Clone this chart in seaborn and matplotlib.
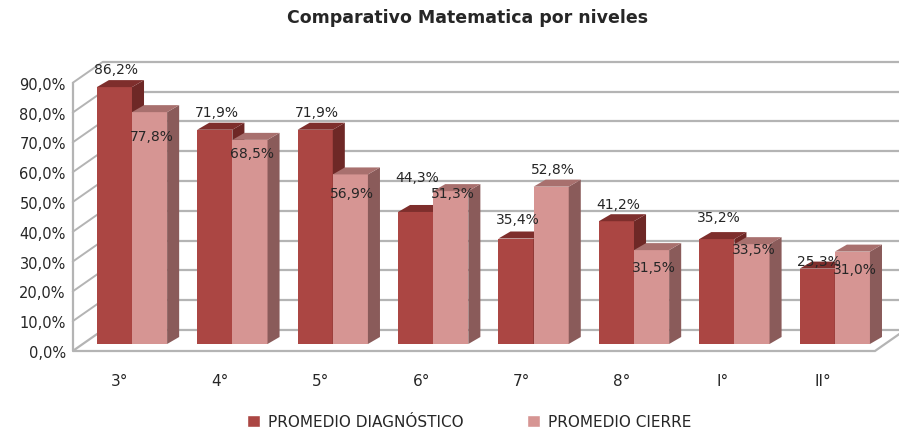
import numpy as np
import pandas as pd
import matplotlib
matplotlib.use("Agg")
import matplotlib.pyplot as plt
import seaborn as sns
from matplotlib.patches import Polygon, Patch

# ── data ─────────────────────────────────────────────────────────────
niveles = ["3°", "4°", "5°", "6°", "7°", "8°", "I°", "II°"]
series = ["PROMEDIO DIAGNÓSTICO", "PROMEDIO CIERRE"]
diagnostico = [86.2, 71.9, 71.9, 44.3, 35.4, 41.2, 35.2, 25.3]
cierre = [77.8, 68.5, 56.9, 51.3, 52.8, 31.5, 33.5, 31.0]
y_ticks = [0, 10, 20, 30, 40, 50, 60, 70, 80, 90]

# label nudges (in %), Excel moves some labels around
diag_label_dy = [6.1, 6.0, 6.0, 11.7, 6.5, 5.8, 7.4, 2.6]
cierre_label_dy = [-8.0, -4.4, -6.2, -0.6, 5.9, -5.7, -1.6, -5.8]

# ── style ────────────────────────────────────────────────────────────
FRONT = {"diag": "#AB4643", "cierre": "#D69593"}
TOP = {"diag": "#7E2E2C", "cierre": "#A8706E"}
SIDE = {"diag": "#6E2826", "cierre": "#8A5B5A"}
GRID = "#b4b4b4"
TEXT = "#262626"

# fake 3-D depth, in data units (x: categories, y: percent)
bar_dx, bar_dy = 0.12, 2.35        # depth of each column
front_dx, front_dy = -0.12, -2.35  # front edge of walls / floor
back_dx, back_dy = 0.18, 4.70      # back wall
wall_lo, wall_hi = -0.47, 7.52

sns.set_style("white")
plt.rcParams["font.family"] = ["DejaVu Sans"]

df = pd.DataFrame({
    "nivel": niveles * 2,
    "serie": [series[0]] * len(niveles) + [series[1]] * len(niveles),
    "valor": diagnostico + cierre,
})

fig = plt.figure(figsize=(8.99, 4.31), dpi=100)
ax = fig.add_axes([0.0809, 0.1833, 0.9147, 0.6731])

sns.barplot(data=df, x="nivel", y="valor", hue="serie",
            palette=[FRONT["diag"], FRONT["cierre"]], saturation=1,
            width=0.7, ax=ax, legend=False, errorbar=None)

ax.set_xlim(-0.59, 7.6)
ax.set_ylim(-2.35, 95)
for s in ax.spines.values():
    s.set_visible(False)

# ── walls, floor, gridlines ──────────────────────────────────────────
fl, fr = wall_lo + front_dx, wall_hi + front_dx
bl, br = wall_lo + back_dx, wall_hi + back_dx
top = y_ticks[-1]

floor = Polygon([(fl, front_dy), (fr, front_dy), (br, back_dy), (bl, back_dy)],
                closed=True, facecolor="white", edgecolor=GRID, lw=1.6,
                zorder=0.4, clip_on=False)
ax.add_patch(floor)
for v in y_ticks[1:]:
    ax.plot([bl, br], [v + back_dy, v + back_dy], color=GRID, lw=1.6,
            zorder=0.5, clip_on=False, solid_capstyle="butt")
    ax.plot([fl, bl], [v + front_dy, v + back_dy], color=GRID, lw=1.4,
            zorder=0.5, clip_on=False)
ax.plot([fl, fl], [front_dy, top + front_dy], color=GRID, lw=1.6,
        zorder=0.5, clip_on=False)

# ── 3-D faces on each column ─────────────────────────────────────────
keys = ["diag", "cierre"]
for j, cont in enumerate(ax.containers):
    k = keys[j]
    for i, bar in enumerate(cont):
        z = 3 + 2 * i + j
        bar.set_zorder(z)
        bar.set_edgecolor("none")
        x0 = bar.get_x()
        x1 = x0 + bar.get_width()
        h = bar.get_height()
        side = Polygon([(x1, 0), (x1 + bar_dx, bar_dy),
                        (x1 + bar_dx, h + bar_dy), (x1, h)],
                       closed=True, facecolor=SIDE[k], edgecolor="none",
                       zorder=z)
        cap = Polygon([(x0, h), (x1, h), (x1 + bar_dx, h + bar_dy),
                       (x0 + bar_dx, h + bar_dy)],
                      closed=True, facecolor=TOP[k], edgecolor="none",
                      zorder=z)
        ax.add_patch(side)
        ax.add_patch(cap)
        nudge = diag_label_dy[i] if j == 0 else cierre_label_dy[i]
        ax.text(x0 + bar.get_width() / 2 + 0.02, h + nudge,
                f"{h:.1f}%".replace(".", ","), ha="center", va="center",
                fontsize=10, color=TEXT, zorder=40)

# ── axes labels ──────────────────────────────────────────────────────
ax.set_yticks([v + front_dy for v in y_ticks])
ax.set_yticklabels([f"{v:.1f}%".replace(".", ",") for v in y_ticks])
ax.set_xticks([i + front_dx for i in range(len(niveles))])
ax.set_xticklabels(niveles)
ax.tick_params(axis="y", length=0, pad=5, labelsize=10.5, labelcolor=TEXT)
ax.tick_params(axis="x", length=0, pad=16, labelsize=11, labelcolor=TEXT)
ax.set_xlabel("")
ax.set_ylabel("")

fig.text(0.52, 0.958, "Comparativo Matematica por niveles", ha="center",
         va="center", fontsize=12.5, fontweight="bold", color=TEXT)

handles = [Patch(facecolor=FRONT["diag"], label=series[0]),
           Patch(facecolor=FRONT["cierre"], label=series[1])]
fig.legend(handles=handles, loc="center", bbox_to_anchor=(0.522, 0.019),
           ncol=2, frameon=False, handlelength=0.85, handleheight=0.85,
           handletextpad=0.5, columnspacing=4.2, fontsize=11,
           labelcolor=TEXT)

fig.savefig("out.png", dpi=100)
